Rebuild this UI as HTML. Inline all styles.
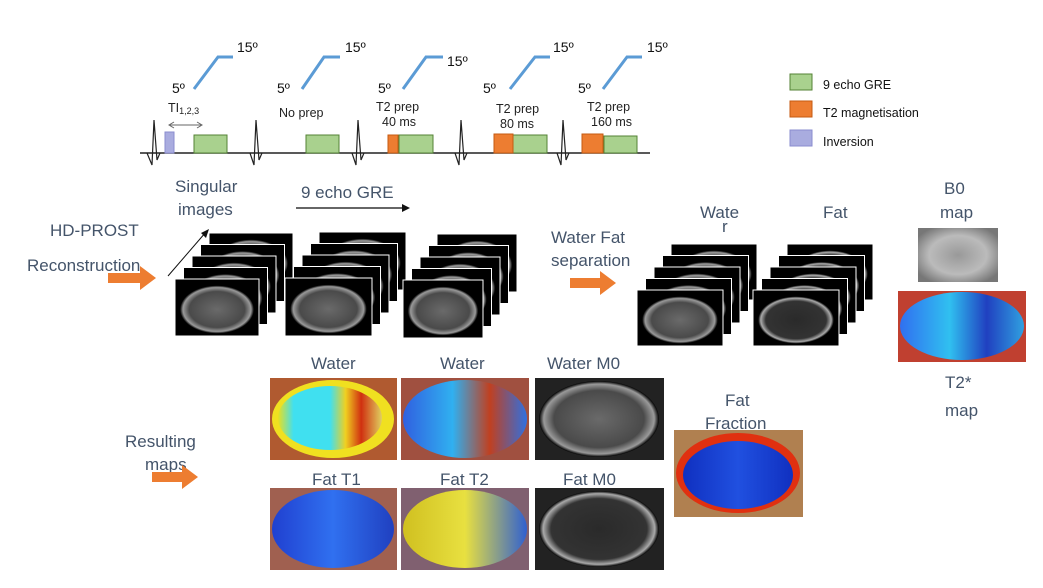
<!DOCTYPE html>
<html><head><meta charset="utf-8"><style>
body{margin:0;background:#fff;width:1043px;height:588px;overflow:hidden}
svg{display:block;font-family:"Liberation Sans",sans-serif}
.lb{fill:#44546a;font-size:17px}
.sq{fill:#222;font-size:12.5px}
</style></head><body>
<svg width="1043" height="588" viewBox="0 0 1043 588">
<defs>
<radialGradient id="mri" cx="50%" cy="50%" r="50%"><stop offset="0" stop-color="#6a6a6a"/><stop offset="0.75" stop-color="#4a4a4a"/><stop offset="0.92" stop-color="#9a9a9a"/><stop offset="1" stop-color="#000"/></radialGradient>
<radialGradient id="mriDark" cx="50%" cy="50%" r="50%"><stop offset="0" stop-color="#2a2a2a"/><stop offset="0.8" stop-color="#333"/><stop offset="0.93" stop-color="#aaa"/><stop offset="1" stop-color="#000"/></radialGradient>
<radialGradient id="b0" cx="50%" cy="50%" r="60%"><stop offset="0" stop-color="#999"/><stop offset="0.6" stop-color="#bbb"/><stop offset="1" stop-color="#777"/></radialGradient>
<linearGradient id="t1w" x1="0" x2="1"><stop offset="0" stop-color="#e8e020"/><stop offset="0.15" stop-color="#40e0f0"/><stop offset="0.5" stop-color="#40e0f0"/><stop offset="0.65" stop-color="#f0d020"/><stop offset="0.8" stop-color="#d03010"/><stop offset="1" stop-color="#e0d060"/></linearGradient>
<linearGradient id="t2w" x1="0" x2="1"><stop offset="0" stop-color="#3060e0"/><stop offset="0.4" stop-color="#30b0f0"/><stop offset="0.7" stop-color="#c04020"/><stop offset="1" stop-color="#3070e0"/></linearGradient>
<linearGradient id="fat1" x1="0" x2="1"><stop offset="0" stop-color="#2040d0"/><stop offset="0.5" stop-color="#3070f0"/><stop offset="1" stop-color="#2040c0"/></linearGradient>
<linearGradient id="fat2" x1="0" x2="1"><stop offset="0" stop-color="#d0c020"/><stop offset="0.5" stop-color="#e8e040"/><stop offset="1" stop-color="#3060d0"/></linearGradient>
<linearGradient id="ff" x1="0" x2="1"><stop offset="0" stop-color="#1030c0"/><stop offset="0.5" stop-color="#2050e0"/><stop offset="1" stop-color="#1030c0"/></linearGradient>
<linearGradient id="t2s" x1="0" x2="1"><stop offset="0" stop-color="#3070f0"/><stop offset="0.4" stop-color="#30c0f0"/><stop offset="0.7" stop-color="#2040c0"/><stop offset="1" stop-color="#30a0e0"/></linearGradient>
</defs>

<g>
<path d="M140,153 H650" stroke="#222" stroke-width="1.5"/>
<g stroke="#222" stroke-width="1.2" fill="none">
<path d="M147,153 L152,165 L154,120 L157,160 L160,153"/>
<path d="M250,153 L254,165 L256,120 L259,160 L262,153"/>
<path d="M352,153 L356,165 L358,120 L361,160 L364,153"/>
<path d="M455,153 L459,165 L461,120 L464,160 L467,153"/>
<path d="M557,153 L561,165 L563,120 L566,160 L569,153"/>
</g>
<rect x="165" y="132" width="9" height="21" fill="#a9acdf" stroke="#8a8ccf"/>
<g fill="#a9d18e" stroke="#548235">
<rect x="194" y="135" width="33" height="18"/><rect x="306" y="135" width="33" height="18"/>
<rect x="399" y="135" width="34" height="18"/><rect x="513" y="135" width="34" height="18"/><rect x="604" y="136" width="33" height="17"/>
</g>
<g fill="#ed7d31" stroke="#c55a11">
<rect x="388" y="135" width="10" height="18"/><rect x="494" y="134" width="19" height="19"/><rect x="582" y="134" width="21" height="19"/>
</g>
<g stroke="#5b9bd5" stroke-width="3" fill="none">
<path d="M194,89 L218,57 H233"/><path d="M302,89 L324,57 H340"/><path d="M403,89 L426,57 H443"/><path d="M510,89 L535,57 H550"/><path d="M603,89 L627,57 H642"/>
</g>
<g font-size="14" fill="#111">
<text x="172" y="93">5º</text><text x="237" y="52">15º</text>
<text x="277" y="93">5º</text><text x="345" y="52">15º</text>
<text x="378" y="93">5º</text><text x="447" y="66">15º</text>
<text x="483" y="93">5º</text><text x="553" y="52">15º</text>
<text x="578" y="93">5º</text><text x="647" y="52">15º</text>
</g>
<text class="sq" x="168" y="112">TI<tspan font-size="9" dy="2">1,2,3</tspan></text>
<path d="M170,125 H201" stroke="#666"/><path d="M174,122 L169,125 L174,128 M197,122 L202,125 L197,128" stroke="#666" fill="none"/>
<text class="sq" x="279" y="117">No prep</text>
<text class="sq" x="376" y="111">T2 prep</text><text class="sq" x="382" y="126">40 ms</text>
<text class="sq" x="496" y="113">T2 prep</text><text class="sq" x="500" y="128">80 ms</text>
<text class="sq" x="587" y="111">T2 prep</text><text class="sq" x="591" y="126">160 ms</text>
</g>

<g font-size="12.5" fill="#111">
<rect x="790" y="74" width="22" height="16" fill="#a9d18e" stroke="#548235"/><text x="823" y="89">9 echo GRE</text>
<rect x="790" y="101" width="22" height="16" fill="#ed7d31" stroke="#c55a11"/><text x="823" y="117">T2 magnetisation</text>
<rect x="790" y="130" width="22" height="16" fill="#a9acdf" stroke="#8a8ccf"/><text x="823" y="146">Inversion</text>
</g>

<text class="lb" x="50" y="236">HD-PROST</text>
<text class="lb" x="27" y="271">Reconstruction</text>
<text class="lb" x="175" y="192">Singular</text><text class="lb" x="178" y="215">images</text>
<text class="lb" x="301" y="198">9 echo GRE</text>
<path d="M296,208 H405" stroke="#333" stroke-width="1.5"/><path d="M402,204 L410,208 L402,212Z" fill="#111"/>
<path d="M168,276 L206,232" stroke="#111"/><path d="M201,233 L209,229 L206,238Z" fill="#111"/>
<text class="lb" x="551" y="243">Water Fat</text><text class="lb" x="551" y="266">separation</text>
<text class="lb" x="700" y="218">Wate</text><text class="lb" x="722" y="232" font-size="13">r</text>
<text class="lb" x="823" y="218">Fat</text>
<text class="lb" x="944" y="194">B0</text><text class="lb" x="940" y="218">map</text>
<text class="lb" x="945" y="388">T2*</text><text class="lb" x="945" y="416">map</text>
<text class="lb" x="125" y="447">Resulting</text><text class="lb" x="145" y="470">maps</text>
<text class="lb" x="311" y="369">Water</text><text class="lb" x="440" y="369">Water</text><text class="lb" x="547" y="369">Water M0</text>
<text class="lb" x="725" y="406">Fat</text><text class="lb" x="705" y="429">Fraction</text>
<text class="lb" x="312" y="485">Fat T1</text><text class="lb" x="440" y="485">Fat T2</text><text class="lb" x="563" y="485">Fat M0</text>

<g fill="#ed7d31">
<path d="M108,273 H140 V266 L156,278 L140,290 V283 H108Z"/>
<path d="M570,278 H600 V271 L616,283 L600,295 V288 H570Z"/>
<path d="M152,472 H182 V465 L198,477 L182,489 V482 H152Z"/>
</g>

<g id="stacks"></g>

<g><rect x="918" y="228" width="80" height="54" fill="url(#b0)"/></g>
<g><rect x="898" y="291" width="128" height="71" fill="#c04030"/><ellipse cx="962" cy="326" rx="62" ry="34" fill="url(#t2s)"/></g>
<g><rect x="270" y="378" width="127" height="82" fill="#b05a30"/><ellipse cx="333" cy="419" rx="61" ry="39" fill="#f0e020"/><ellipse cx="330" cy="418" rx="52" ry="32" fill="url(#t1w)"/></g>
<g><rect x="401" y="378" width="128" height="82" fill="#a05040"/><ellipse cx="465" cy="419" rx="62" ry="39" fill="url(#t2w)"/></g>
<g><rect x="535" y="378" width="129" height="82" fill="#222"/><ellipse cx="599" cy="419" rx="60" ry="38" fill="url(#mri)"/></g>
<g><rect x="270" y="488" width="127" height="82" fill="#a06050"/><ellipse cx="333" cy="529" rx="61" ry="39" fill="url(#fat1)"/></g>
<g><rect x="401" y="488" width="128" height="82" fill="#806070"/><ellipse cx="465" cy="529" rx="62" ry="39" fill="url(#fat2)"/></g>
<g><rect x="535" y="488" width="129" height="82" fill="#222"/><ellipse cx="599" cy="529" rx="60" ry="38" fill="url(#mriDark)"/></g>
<g><rect x="674" y="430" width="129" height="87" fill="#b08050"/><ellipse cx="738" cy="473" rx="62" ry="40" fill="#e03010"/><ellipse cx="738" cy="475" rx="55" ry="34" fill="url(#ff)"/></g>
</svg>
<script>
const stacks=[[175,279,84,57,'url(#mri)'],[285,278,87,58,'url(#mri)'],[403,280,80,58,'url(#mri)'],[637,290,86,56,'url(#mri)'],[753,290,86,56,'url(#mriDark)']];
const g=document.getElementById('stacks');
const NS='http://www.w3.org/2000/svg';
stacks.forEach(s=>{
  for(let i=4;i>=0;i--){
    const x=s[0]+i*8.5,y=s[1]-i*11.5;
    const r=document.createElementNS(NS,'rect');
    r.setAttribute('x',x);r.setAttribute('y',y);r.setAttribute('width',s[2]);r.setAttribute('height',s[3]);
    r.setAttribute('fill','#000');r.setAttribute('stroke','#fff');r.setAttribute('stroke-width','1');
    
    
    g.appendChild(r);
    const e=document.createElementNS(NS,'ellipse');
    e.setAttribute('cx',x+s[2]/2);e.setAttribute('cy',y+s[3]/2+2);e.setAttribute('rx',s[2]*0.44);e.setAttribute('ry',s[3]*0.42);
    e.setAttribute('fill',s[4]);
    
    
    g.appendChild(e);
  }
});
</script>
</body></html>
